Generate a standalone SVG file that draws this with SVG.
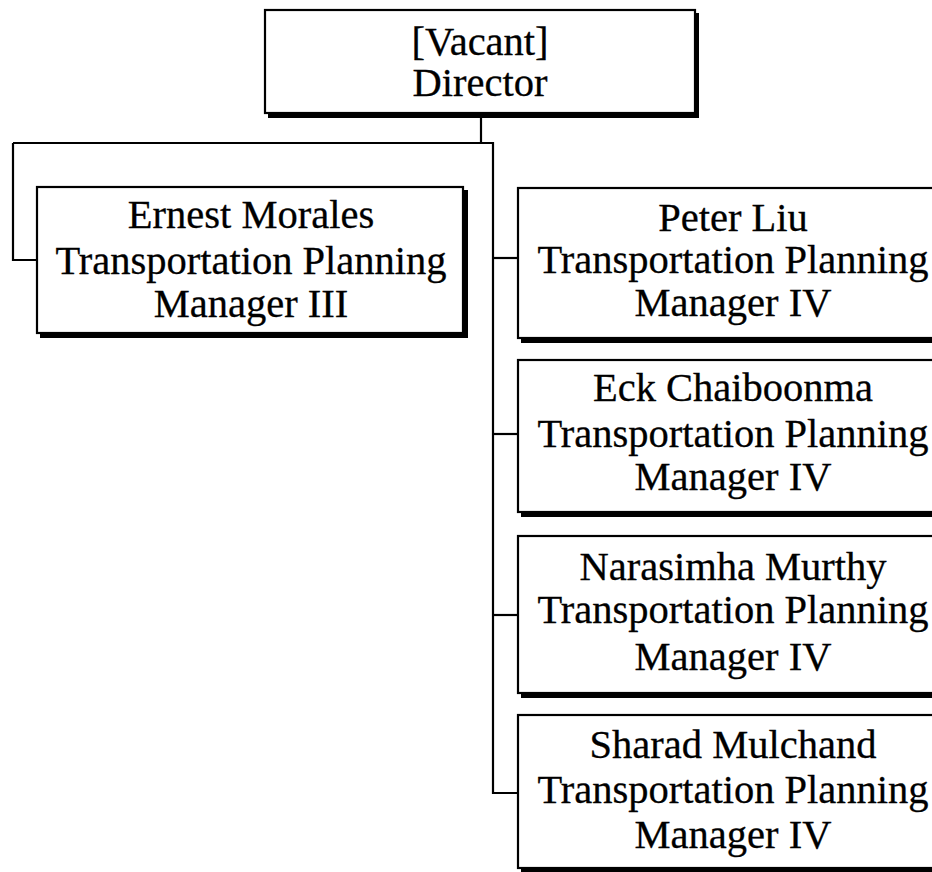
<svg xmlns="http://www.w3.org/2000/svg" width="932" height="872" viewBox="0 0 932 872">
<style>
.sh{fill:#000}
.bx{fill:#fff;stroke:#000;stroke-width:2.2}
.t{font-family:"Liberation Serif","Times New Roman",serif;font-size:40.5px;fill:#000;text-anchor:middle;stroke:#000;stroke-width:0.3}
.c{fill:none;stroke:#000;stroke-width:2.2}
</style>
<rect width="932" height="872" fill="#fff"/>
<g id="connectors">
<path class="c" d="M481 113 V143"/>
<path class="c" d="M13 143 H493 V793 H518"/>
<path class="c" d="M13 143 V260 H37"/>
<path class="c" d="M493 258 H518"/>
<path class="c" d="M493 434 H518"/>
<path class="c" d="M493 615 H518"/>
</g>
<g id="director">
<rect class="sh" x="268" y="13" width="431" height="105"/>
<rect class="bx" x="265" y="10" width="430" height="103"/>
<text class="t" x="480" y="55">[Vacant]</text>
<text class="t" x="480" y="96">Director</text>
</g>
<g id="ernest">
<rect class="sh" x="40" y="190" width="428" height="148"/>
<rect class="bx" x="37" y="187" width="426" height="146"/>
<text class="t" x="251" y="228">Ernest Morales</text>
<text class="t" x="251" y="274">Transportation Planning</text>
<text class="t" x="251" y="317">Manager III</text>
</g>
<g id="peter">
<rect class="sh" x="521" y="191" width="427" height="152"/>
<rect class="bx" x="518" y="188" width="427" height="150"/>
<text class="t" x="733" y="231">Peter Liu</text>
<text class="t" x="733" y="273">Transportation Planning</text>
<text class="t" x="733" y="316">Manager IV</text>
</g>
<g id="eck">
<rect class="sh" x="521" y="363" width="427" height="154"/>
<rect class="bx" x="518" y="360" width="427" height="152"/>
<text class="t" x="733" y="401">Eck Chaiboonma</text>
<text class="t" x="733" y="447">Transportation Planning</text>
<text class="t" x="733" y="490">Manager IV</text>
</g>
<g id="narasimha">
<rect class="sh" x="521" y="539" width="427" height="159"/>
<rect class="bx" x="518" y="536" width="427" height="157"/>
<text class="t" x="733" y="580">Narasimha Murthy</text>
<text class="t" x="733" y="623">Transportation Planning</text>
<text class="t" x="733" y="670">Manager IV</text>
</g>
<g id="sharad">
<rect class="sh" x="521" y="718" width="427" height="154"/>
<rect class="bx" x="518" y="715" width="427" height="153"/>
<text class="t" x="733" y="758">Sharad Mulchand</text>
<text class="t" x="733" y="803">Transportation Planning</text>
<text class="t" x="733" y="848">Manager IV</text>
</g>
</svg>
